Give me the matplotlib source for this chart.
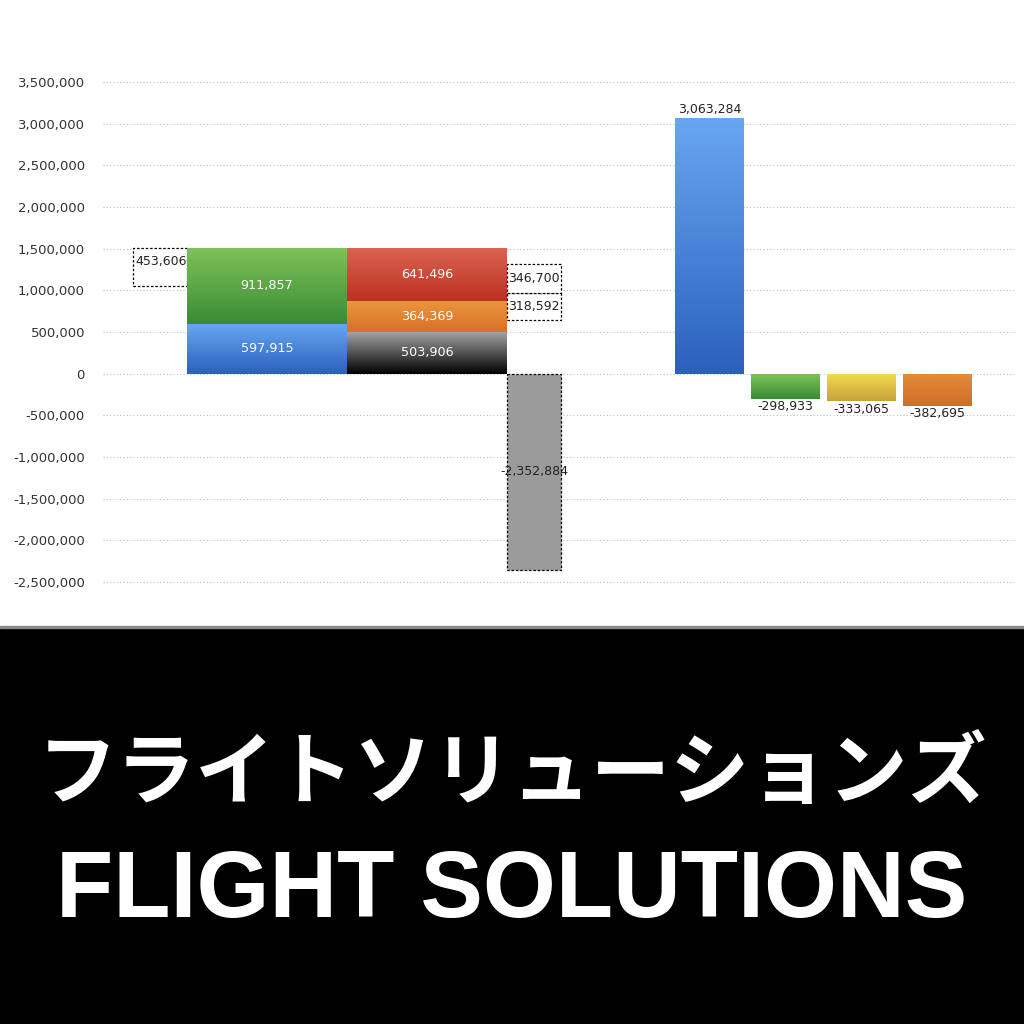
import numpy as np
import matplotlib.pyplot as plt
from matplotlib.ticker import FuncFormatter
from matplotlib.colors import LinearSegmentedColormap

# 値
opening_value = 453606
left_stack = [597915, 911857]          # 青, 緑
mid_stack = [503906, 364369, 641496]   # 黒, オレンジ, 赤
side_boxes = [318592, 346700]
side_box_base = 645000
net_value = -2352884
right_labels = ["blue", "green", "yellow", "orange"]
right_values = [3063284, -298933, -333065, -382695]
yticks = np.arange(-2500000, 3500001, 500000)

# 色 (上, 下)
grad = {
    "blue": ("#68a6f2", "#2b60bc"),
    "green": ("#7fc257", "#3a8b36"),
    "red": ("#db6452", "#bd3120"),
    "orange": ("#eb963c", "#d8702a"),
    "black": ("#a3a3a3", "#000000"),
    "yellow": ("#f3dc4e", "#c7a23b"),
    "orange2": ("#e38c37", "#d06c2a"),
}


def grad_bar(ax, x, h, w, bottom, key):
    bar = ax.bar(x, h, w, bottom=bottom, align="edge", color="none", lw=0)[0]
    top_c, bot_c = grad[key]
    cmap = LinearSegmentedColormap.from_list(key, [bot_c, top_c])
    y0, y1 = min(bottom, bottom + h), max(bottom, bottom + h)
    img = ax.imshow(np.linspace(0, 1, 256).reshape(-1, 1), cmap=cmap, origin="lower",
                    extent=[x, x + w, y0, y1], aspect="auto", zorder=2)
    img.set_clip_path(bar)
    return bar


def inner_label(ax, x, y, v):
    ax.text(x, y, f"{v:,}", ha="center", va="center", fontsize=9.2,
            color="white", zorder=5)


fig = plt.figure(figsize=(10.24, 10.24), dpi=100)
fig.patch.set_facecolor("white")

# 下の黒いパネル
fig.patches.append(plt.Rectangle((0, 0), 1, 396 / 1024, transform=fig.transFigure,
                                 color="black", zorder=0))
fig.patches.append(plt.Rectangle((0, 396 / 1024), 1, 2.5 / 1024, transform=fig.transFigure,
                                 color="#8a8a8a", zorder=0))

px = 500 / 6000000
ax = fig.add_axes([103 / 1024, 1 - (582 + 0.1e6 * px) / 1024, 912 / 1024, 6.2e6 * px / 1024])

# 左: 点線の箱
ax.bar(30, opening_value, 54, bottom=sum(left_stack) - opening_value, align="edge",
       facecolor="white", edgecolor="black", ls=(0, (2, 1.5)), lw=0.9, zorder=2)
ax.text(32, sum(left_stack) - opening_value / 2 + 60000, f"{opening_value:,}",
        ha="left", va="center", fontsize=9, color="#222222", zorder=5)

# 積み上げ1
b = 0
for v, k in zip(left_stack, ["blue", "green"]):
    grad_bar(ax, 84, v, 160, b, k)
    inner_label(ax, 164, b + v / 2, v)
    b += v

# 積み上げ2
b = 0
for v, k in zip(mid_stack, ["black", "orange", "red"]):
    grad_bar(ax, 244, v, 160, b, k)
    inner_label(ax, 324, b + v / 2, v)
    b += v

# 右側の点線の箱
b = side_box_base
for v in side_boxes:
    ax.bar(404, v, 54, bottom=b, align="edge", facecolor="white", edgecolor="black",
           ls=(0, (2, 1.5)), lw=0.9, zorder=2)
    ax.text(431, b + v / 2, f"{v:,}", ha="center", va="center", fontsize=9,
            color="#222222", zorder=5)
    b += v

# 合計のマイナス
ax.bar(404, net_value, 54, align="edge", facecolor="#9b9b9b", edgecolor="black",
       ls=(0, (2, 1.5)), lw=0.9, zorder=2)
ax.text(431, net_value / 2, f"{net_value:,}", ha="center", va="center", fontsize=9,
        color="#222222", zorder=5)

# 右側のバー
keys = ["blue", "green", "yellow", "orange2"]
for i, (v, k) in enumerate(zip(right_values, keys)):
    x = 572 + i * 76
    grad_bar(ax, x, v, 69, 0, k)
    if v > 0:
        ax.text(x + 34.5, v + 25000, f"{v:,}", ha="center", va="bottom", fontsize=9,
                color="#222222", zorder=5)
    else:
        ax.text(x + 34.5, v - 15000, f"{v:,}", ha="center", va="top", fontsize=9,
                color="#222222", zorder=5)

ax.set_xlim(0, 912)
ax.set_ylim(-2.6e6, 3.6e6)
ax.set_yticks(yticks)
ax.yaxis.set_major_formatter(FuncFormatter(lambda v, p: f"{int(v):,}"))
ax.tick_params(axis="y", length=0, pad=13, labelsize=9.5, labelcolor="#333333")
ax.set_xticks([])
ax.grid(axis="y", color="#bdbdbd", ls=(0, (1, 2)), lw=0.8)
ax.set_axisbelow(True)
for s in ax.spines.values():
    s.set_visible(False)
ax.patch.set_alpha(0)

fig.text(0.5, 1 - 775 / 1024, "フライトソリューションズ", ha="center", va="center",
         fontsize=57, fontweight="bold", color="white",
         family=["Noto Sans CJK JP", "DejaVu Sans"])
fig.text(0.5, 1 - 893 / 1024, "FLIGHT SOLUTIONS", ha="center", va="center",
         fontsize=67.5, fontweight="bold", color="white", family="Liberation Sans")

fig.savefig("out.png", dpi=100)
